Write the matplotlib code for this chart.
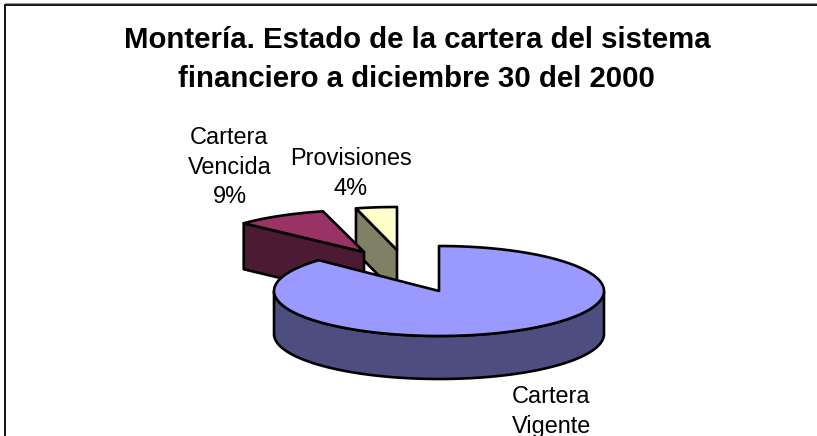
import numpy as np
import matplotlib
matplotlib.use("Agg")
import matplotlib.pyplot as plt
from matplotlib.patches import Polygon

plt.rcParams['font.family'] = ['Liberation Sans', 'DejaVu Sans']

title_lines = ["Montería. Estado de la cartera del sistema",
               "financiero a diciembre 30 del 2000"]
categories = ["Cartera Vigente", "Cartera Vencida", "Provisiones"]
values = [87, 9, 4]
top_colors = ["#9999FF", "#993366", "#FFFFCC"]
side_colors = ["#4D4D80", "#4D1A33", "#808066"]

W, H = 817, 436
CX, CY, RX = 439, 291, 165
radii_y = [45, 42, 43]
depths = [43, 46, 44]
offsets = [(0, 0), (-75, -39), (-42, -41)]
LW = 1.9

fig = plt.figure(figsize=(W / 100, H / 100), dpi=100)
ax = fig.add_axes([0, 0, 1, 1])
ax.set_xlim(0, W)
ax.set_ylim(H, 0)
ax.axis("off")

fractions = np.array(values) / sum(values)
edges = np.concatenate([[0], np.cumsum(fractions)]) * 2 * np.pi


def rim(theta, off, ry):
    return np.column_stack([CX + off[0] + RX * np.sin(theta),
                            CY + off[1] - ry * np.cos(theta)])


def draw_slice(i, z):
    off = offsets[i]
    ry = radii_y[i]
    a0, a1 = edges[i], edges[i + 1]
    apex = np.array([CX + off[0], CY + off[1]])
    theta = np.linspace(a0, a1, 200)
    arc = rim(theta, off, ry)
    down = np.array([0, depths[i]])
    # outer wall on the near half of the ellipse
    front = theta[(theta > np.pi / 2) & (theta < 3 * np.pi / 2)]
    if len(front):
        p = rim(front, off, ry)
        ax.add_patch(Polygon(np.vstack([p, (p + down)[::-1]]), closed=True,
                             fc=side_colors[i], ec="black", lw=LW, zorder=z,
                             joinstyle="round"))
    # cut face that looks at the viewer
    if i > 0:
        q = arc[0]
        ax.add_patch(Polygon([q, apex, apex + down, q + down], closed=True,
                             fc=side_colors[i], ec="black", lw=LW, zorder=z,
                             joinstyle="round"))
    ax.add_patch(Polygon(np.vstack([apex, arc]), closed=True, fc=top_colors[i],
                         ec="black", lw=LW, zorder=z + 0.5, joinstyle="round"))


draw_slice(2, 1)
draw_slice(1, 2)
draw_slice(0, 3)

# chart frame: only the left and top edges fall inside the picture
ax.plot([5.5, 5.5, W], [H, 5, 5], color="black", lw=1.3, zorder=5,
        solid_joinstyle="miter")
ax.plot([5, W], [3.5, 3.5], color="#999999", lw=0.8, zorder=5)

ax.text(417, 48.5, title_lines[0], ha="center", va="baseline", fontsize=21.2,
        fontweight="bold", color="black")
ax.text(416.5, 87, title_lines[1], ha="center", va="baseline", fontsize=21.2,
        fontweight="bold", color="black")

label_size = 16.9


def label(x, y, lines):
    for k, line in enumerate(lines):
        ax.text(x, y + 29.5 * k, line, ha="center", va="baseline",
                fontsize=label_size, color="black")


label(229.5, 144, ["Cartera", "Vencida", "%d%%" % values[1]])
label(351, 165, ["Provisiones", "%d%%" % values[2]])
label(551.5, 403, ["Cartera", "Vigente"])

fig.savefig("out.png", dpi=100)
